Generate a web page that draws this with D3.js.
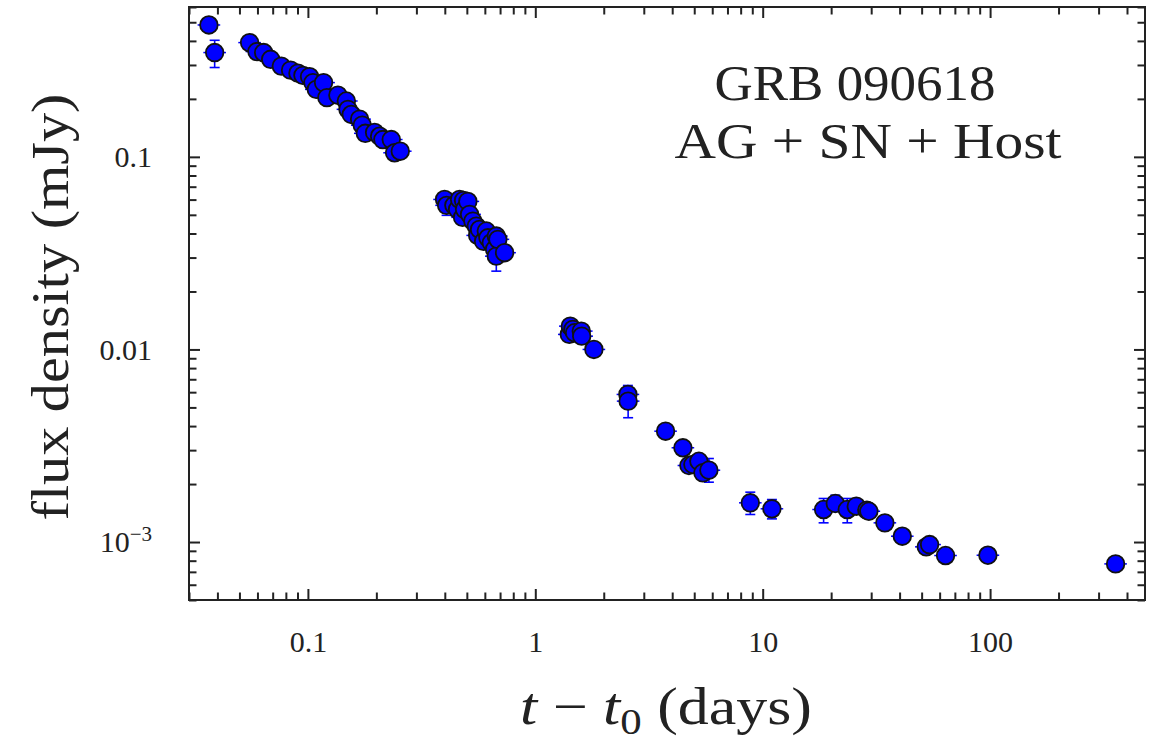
<!DOCTYPE html>
<html><head><meta charset="utf-8">
<script src="https://cdn.jsdelivr.net/npm/d3@7"></script>
<style>html,body{margin:0;padding:0;background:#fff}</style>
</head><body>
<svg id="c" width="1149" height="743"></svg>
<script>
// ---- data (t - t0 in days, flux density in mJy) ----
const time = [0.0367,0.0389,0.0554,0.0597,0.0639,0.0686,0.0764,0.0839,0.0904,0.0951,
  0.1017,0.1052,0.1089,0.1172,0.1212,0.1355,0.1476,0.150,0.1552,0.1688,
  0.1734,0.1788,0.1965,0.2067,0.2137,0.2326,0.2405,0.2548,
  0.399,0.4073,0.4385,0.4552,0.4647,0.4789,0.4838,0.4886,0.5051,0.514,
  0.5314,0.5501,0.558,0.5689,0.5925,0.6089,0.6188,0.6405,0.6622,0.6738,
  0.6738,0.6847,0.7328,
  1.411,1.425,1.463,1.489,1.593,1.60,1.81,2.554,2.56,3.741,
  4.458,4.737,4.933,5.242,5.458,5.80,8.82,10.98,18.53,20.86,
  23.55,25.8,28.72,29.3,34.46,41.1,52.4,54.2,63.7,97.8,356.4];
const flux = [0.484,0.348,0.392,0.352,0.348,0.321,0.296,0.282,0.272,0.265,
  0.261,0.243,0.224,0.243,0.203,0.209,0.195,0.1765,0.166,0.157,
  0.146,0.1325,0.134,0.128,0.123,0.123,0.105,0.107,
  0.0601,0.056,0.056,0.0534,0.0601,0.0485,0.0594,0.0534,0.0587,0.0503,
  0.0464,0.0437,0.0391,0.042,0.0364,0.0412,0.038,0.0358,0.0331,0.0388,
  0.0305,0.0373,0.0318,
  0.01197,0.01321,0.0127,0.01221,0.01245,0.01172,0.0100,0.00584,0.00539,0.003763,
  0.003086,0.002497,0.002527,0.002627,0.002288,0.00236,0.001598,0.001488,0.001475,0.001585,
  0.001475,0.001535,0.001463,0.001445,0.001258,0.001072,0.000944,0.00097,0.000851,0.000854,0.00077];
// lower / upper ends of the visible flux error bars (null = bar hidden behind marker)
const fluxLow = time.map(() => null);
const fluxHigh = time.map(() => null);
const errIndex = [1, 29, 48, 58, 59, 66, 67, 68, 69, 70, 71];
const errLow  = [0.291, 0.0497, 0.0255, 0.0052, 0.00442, 0.002045, 0.00139, 0.001319, 0.001258, 0.00144, 0.001258];
const errHigh = [0.403, 0.0646, 0.0365, 0.0065, 0.0063, 0.002714, 0.001815, 0.001662, 0.001683, 0.00175, 0.001683];
errIndex.forEach((k, i) => { fluxLow[k] = errLow[i]; fluxHigh[k] = errHigh[i]; });

const xMajor = [0.1, 1, 10, 100];
const xMajorLabels = ["0.1", "1", "10", "100"];
const yMajor = [0.1, 0.01, 0.001];
const yMajorLabels = ["0.1", "0.01", "10^\u22123"];
const annotation = ["GRB 090618", "AG + SN + Host"];

// ---- layout ----
const L = 189, R = 1145, T = 7, B = 600;
const FONT = "'Liberation Serif', 'Times New Roman', serif";
const INK = "#222";
const svg = d3.select("#c");

const x = d3.scaleLog().domain([0.03, 480]).range([L, R]);
const y = d3.scaleLog().domain([0.0005, 0.6]).range([B, T]);

const xMinor = x.ticks().filter(v => !xMajor.some(m => Math.abs(m - v) / m < 1e-6));
const yMinor = y.ticks().filter(v => !yMajor.some(m => Math.abs(m - v) / m < 1e-6));

function styleAxis(g) {
  g.select(".domain").remove();
  g.selectAll(".tick line").attr("stroke", INK).attr("stroke-width", 2);
  g.selectAll("text").attr("font-family", FONT).attr("font-size", 30).attr("fill", "#222");
}
const MAJ = 11, MIN = 7.5;
// bottom
svg.append("g").attr("transform", `translate(0,${B})`)
  .call(d3.axisBottom(x).tickValues(xMajor).tickSize(-MAJ).tickPadding(31).tickFormat((d, i) => xMajorLabels[i]))
  .call(styleAxis);
svg.append("g").attr("transform", `translate(0,${B})`)
  .call(d3.axisBottom(x).tickValues(xMinor).tickSize(-MIN).tickFormat(""))
  .call(styleAxis);
// top
svg.append("g").attr("transform", `translate(0,${T})`)
  .call(d3.axisTop(x).tickValues(xMajor).tickSize(-MAJ).tickFormat(""))
  .call(styleAxis);
svg.append("g").attr("transform", `translate(0,${T})`)
  .call(d3.axisTop(x).tickValues(xMinor).tickSize(-MIN).tickFormat(""))
  .call(styleAxis);
// left
const gl = svg.append("g").attr("transform", `translate(${L},0)`)
  .call(d3.axisLeft(y).tickValues(yMajor).tickSize(-MAJ).tickPadding(37).tickFormat((d, i) => yMajorLabels[i]))
  .call(styleAxis);
gl.selectAll(".tick text").each(function (d, i) {
  const s = yMajorLabels[i];
  if (s.includes("^")) {
    const [base, sup] = s.split("^");
    const t = d3.select(this).text(null);
    t.append("tspan").text(base);
    t.append("tspan").attr("font-size", 21).attr("dy", "-0.55em").text(sup);
  }
});
svg.append("g").attr("transform", `translate(${L},0)`)
  .call(d3.axisLeft(y).tickValues(yMinor).tickSize(-MIN).tickFormat(""))
  .call(styleAxis);
// right
svg.append("g").attr("transform", `translate(${R},0)`)
  .call(d3.axisRight(y).tickValues(yMajor).tickSize(-MAJ).tickFormat(""))
  .call(styleAxis);
svg.append("g").attr("transform", `translate(${R},0)`)
  .call(d3.axisRight(y).tickValues(yMinor).tickSize(-MIN).tickFormat(""))
  .call(styleAxis);

// frame
svg.append("rect").attr("x", L).attr("y", T).attr("width", R - L).attr("height", B - T)
  .attr("fill", "none").attr("stroke", INK).attr("stroke-width", 2);

// ---- data marks ----
const pts = time.map((t, i) => ({ t, f: flux[i], lo: fluxLow[i], hi: fluxHigh[i] }));
const RAD = 8.8, CAP = 5;
const gm = svg.append("g");
// small horizontal error ticks on every point
gm.selectAll("line.h").data(pts).join("line")
  .attr("x1", d => x(d.t) - RAD - 2.5).attr("x2", d => x(d.t) + RAD + 2.5)
  .attr("y1", d => y(d.f)).attr("y2", d => y(d.f))
  .attr("stroke", "#0000ff").attr("stroke-width", 1.5);
const eb = pts.filter(d => d.lo != null);
gm.selectAll("line.v").data(eb).join("line")
  .attr("x1", d => x(d.t)).attr("x2", d => x(d.t))
  .attr("y1", d => y(d.lo)).attr("y2", d => y(d.hi))
  .attr("stroke", "#0000ff").attr("stroke-width", 1.6);
gm.selectAll("line.cl").data(eb).join("line")
  .attr("x1", d => x(d.t) - CAP).attr("x2", d => x(d.t) + CAP)
  .attr("y1", d => y(d.lo)).attr("y2", d => y(d.lo))
  .attr("stroke", "#0000ff").attr("stroke-width", 1.6);
gm.selectAll("line.ch").data(eb).join("line")
  .attr("x1", d => x(d.t) - CAP).attr("x2", d => x(d.t) + CAP)
  .attr("y1", d => y(d.hi)).attr("y2", d => y(d.hi))
  .attr("stroke", "#0000ff").attr("stroke-width", 1.6);
gm.selectAll("circle").data(pts).join("circle")
  .attr("cx", d => x(d.t)).attr("cy", d => y(d.f)).attr("r", RAD)
  .attr("fill", "#0000ff").attr("stroke", "#111").attr("stroke-width", 1.8);

// ---- titles ----
const xt = svg.append("text").attr("x", 666).attr("y", 724).attr("text-anchor", "middle")
  .attr("font-family", FONT).attr("font-size", 52).attr("fill", "#222")
  .attr("textLength", 292).attr("lengthAdjust", "spacingAndGlyphs");
xt.append("tspan").attr("font-style", "italic").text("t");
xt.append("tspan").text(" \u2212 ");
xt.append("tspan").attr("font-style", "italic").text("t");
xt.append("tspan").attr("font-size", 36).attr("dy", 10).text("0");
xt.append("tspan").attr("dy", -10).text(" (days)");

svg.append("text").attr("transform", "translate(68,307) rotate(-90)")
  .attr("text-anchor", "middle").attr("font-family", FONT).attr("font-size", 52).attr("fill", "#222")
  .attr("textLength", 427).attr("lengthAdjust", "spacingAndGlyphs")
  .text("flux density (mJy)");

svg.append("text").attr("x", 855).attr("y", 100).attr("text-anchor", "middle")
  .attr("font-family", FONT).attr("font-size", 50).attr("fill", "#222")
  .attr("textLength", 281).attr("lengthAdjust", "spacingAndGlyphs").text(annotation[0]);
svg.append("text").attr("x", 868).attr("y", 158).attr("text-anchor", "middle")
  .attr("font-family", FONT).attr("font-size", 50).attr("fill", "#222")
  .attr("textLength", 387).attr("lengthAdjust", "spacingAndGlyphs").text(annotation[1]);
</script>
</body></html>
